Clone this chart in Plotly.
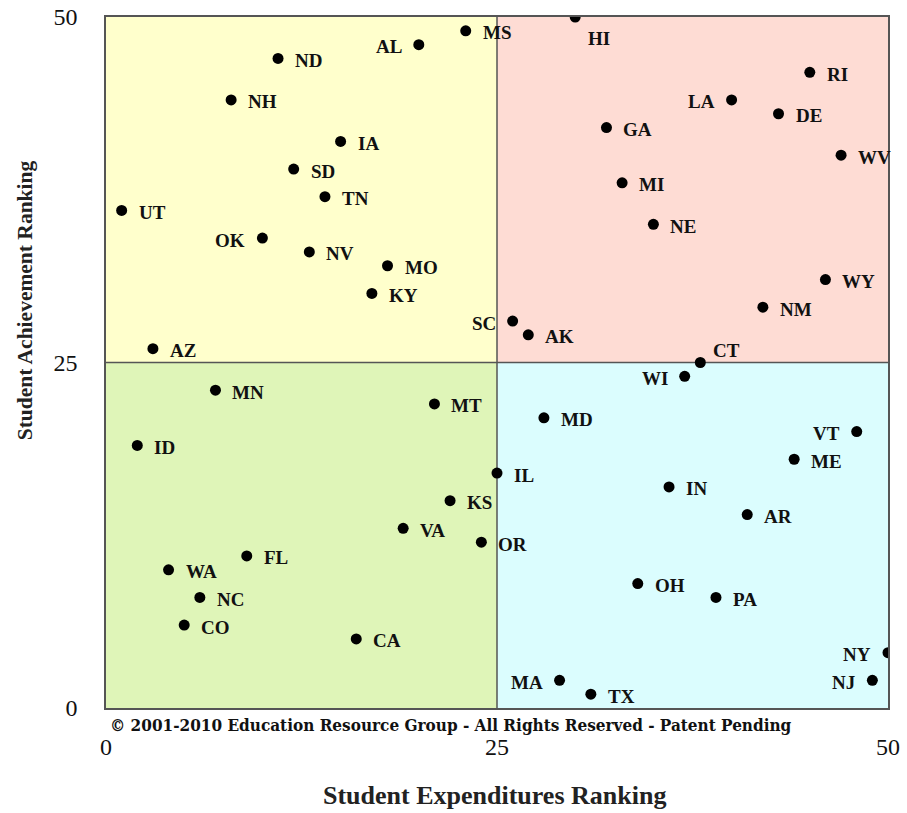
import plotly.graph_objects as go

# ---------------- data ----------------
states = ["UT", "AZ", "NH", "ND", "AL", "MS", "HI", "IA", "SD", "TN",
          "OK", "NV", "MO", "KY", "SC", "AK", "CT", "WI", "GA", "MI",
          "NE", "LA", "DE", "RI", "WV", "WY", "NM", "MN", "MT", "ID",
          "IL", "KS", "VA", "OR", "FL", "WA", "NC", "CO", "CA", "MD",
          "VT", "ME", "IN", "AR", "OH", "PA", "NY", "NJ", "MA", "TX"]
expenditure_rank = [1, 3, 8, 11, 20, 23, 30, 15, 12, 14,
                    10, 13, 18, 17, 26, 27, 38, 37, 32, 33,
                    35, 40, 43, 45, 47, 46, 42, 7, 21, 2,
                    25, 22, 19, 24, 9, 4, 6, 5, 16, 28,
                    48, 44, 36, 41, 34, 39, 50, 49, 29, 31]
achievement_rank = [36, 26, 44, 47, 48, 49, 50, 41, 39, 37,
                    34, 33, 32, 30, 28, 27, 25, 24, 42, 38,
                    35, 44, 43, 46, 40, 31, 29, 23, 22, 19,
                    17, 15, 13, 12, 11, 10, 8, 6, 5, 21,
                    20, 18, 16, 14, 9, 8, 4, 2, 2, 1]
axis_ticks = [0, 25, 50]

# label placement (style only)
label_side = {s: "r" for s in states}
for s in ["AL", "OK", "SC", "LA", "WI", "VT", "NY", "NJ", "MA"]:
    label_side[s] = "l"
label_side["HI"] = "br"
label_side["CT"] = "tr"

AX_MIN, AX_MAX = axis_ticks[0], axis_ticks[-1]
MID = axis_ticks[1]

SERIF = "Liberation Serif, Times New Roman, serif"

fig = go.Figure()
fig.add_trace(go.Scatter(
    x=expenditure_rank, y=achievement_rank, mode="markers",
    marker=dict(color="black", size=11),
    cliponaxis=True, hoverinfo="text", text=states, showlegend=False,
))

# quadrant backgrounds
quads = [
    (AX_MIN, MID, MID, AX_MAX, "#FFFFCC"),
    (MID, AX_MAX, MID, AX_MAX, "#FEDCD4"),
    (AX_MIN, MID, AX_MIN, MID, "#DFF5B8"),
    (MID, AX_MAX, AX_MIN, MID, "#DBFDFE"),
]
shapes = []
for x0, x1, y0, y1, c in quads:
    shapes.append(dict(type="rect", xref="x", yref="y", x0=x0, x1=x1, y0=y0, y1=y1,
                       fillcolor=c, line=dict(width=0), layer="below"))
shapes.append(dict(type="line", xref="x", yref="y", x0=MID, x1=MID, y0=AX_MIN, y1=AX_MAX,
                   line=dict(color="#555555", width=1.5), layer="below"))
shapes.append(dict(type="line", xref="x", yref="y", x0=AX_MIN, x1=AX_MAX, y0=MID, y1=MID,
                   line=dict(color="#555555", width=1.5), layer="below"))

annotations = []
lab_font = dict(family=SERIF, size=19, color="#111111")
for s, xv, yv in zip(states, expenditure_rank, achievement_rank):
    side = label_side[s]
    a = dict(x=xv, y=yv, xref="x", yref="y", text="<b>%s</b>" % s, showarrow=False,
             font=lab_font, yanchor="middle")
    if side == "r":
        a.update(xanchor="left", xshift=15, yshift=-2)
    elif side == "l":
        a.update(xanchor="right", xshift=-15, yshift=-2)
    elif side == "br":
        a.update(xanchor="left", xshift=11, yshift=-21)
    elif side == "tr":
        a.update(xanchor="left", xshift=11, yshift=12)
    annotations.append(a)

annotations.append(dict(
    x=0.004, y=-0.0245, xref="paper", yref="paper", xanchor="left", yanchor="middle",
    text="<b>\u00a9 2001-2010 Education Resource Group - All Rights Reserved - Patent Pending</b>",
    showarrow=False, borderpad=0,
    font=dict(family="DejaVu Serif Condensed, serif", size=17, color="#111111")))
annotations.append(dict(
    x=0.497, y=-0.127, xref="paper", yref="paper", xanchor="center", yanchor="middle",
    text="<b>Student Expenditures Ranking</b>", showarrow=False,
    font=dict(family=SERIF, size=26, color="#222222")))
annotations.append(dict(
    x=-0.1036, y=0.59, xref="paper", yref="paper", xanchor="center", yanchor="middle",
    text="<b>Student Achievement Ranking</b>", showarrow=False, textangle=-90,
    font=dict(family=SERIF, size=21.5, color="#222222")))

axis_common = dict(
    range=[AX_MIN, AX_MAX], tickvals=axis_ticks, ticktext=[str(t) for t in axis_ticks],
    showgrid=False, zeroline=False, showline=True, mirror=True,
    linecolor="#555555", linewidth=1.5, ticks="", automargin=False,
    tickfont=dict(family=SERIF, size=24, color="#111111"),
)
fig.update_layout(
    width=907, height=813,
    margin=dict(l=106, r=19, t=17, b=105),
    paper_bgcolor="white", plot_bgcolor="white",
    xaxis=dict(**axis_common, ticklabelstandoff=16),
    yaxis=dict(**axis_common, ticklabelstandoff=22),
    shapes=shapes, annotations=annotations,
)
fig.write_html("out.html", config={"displayModeBar": False},
               post_script="document.body.style.margin='0px';document.body.style.overflow='hidden';")
